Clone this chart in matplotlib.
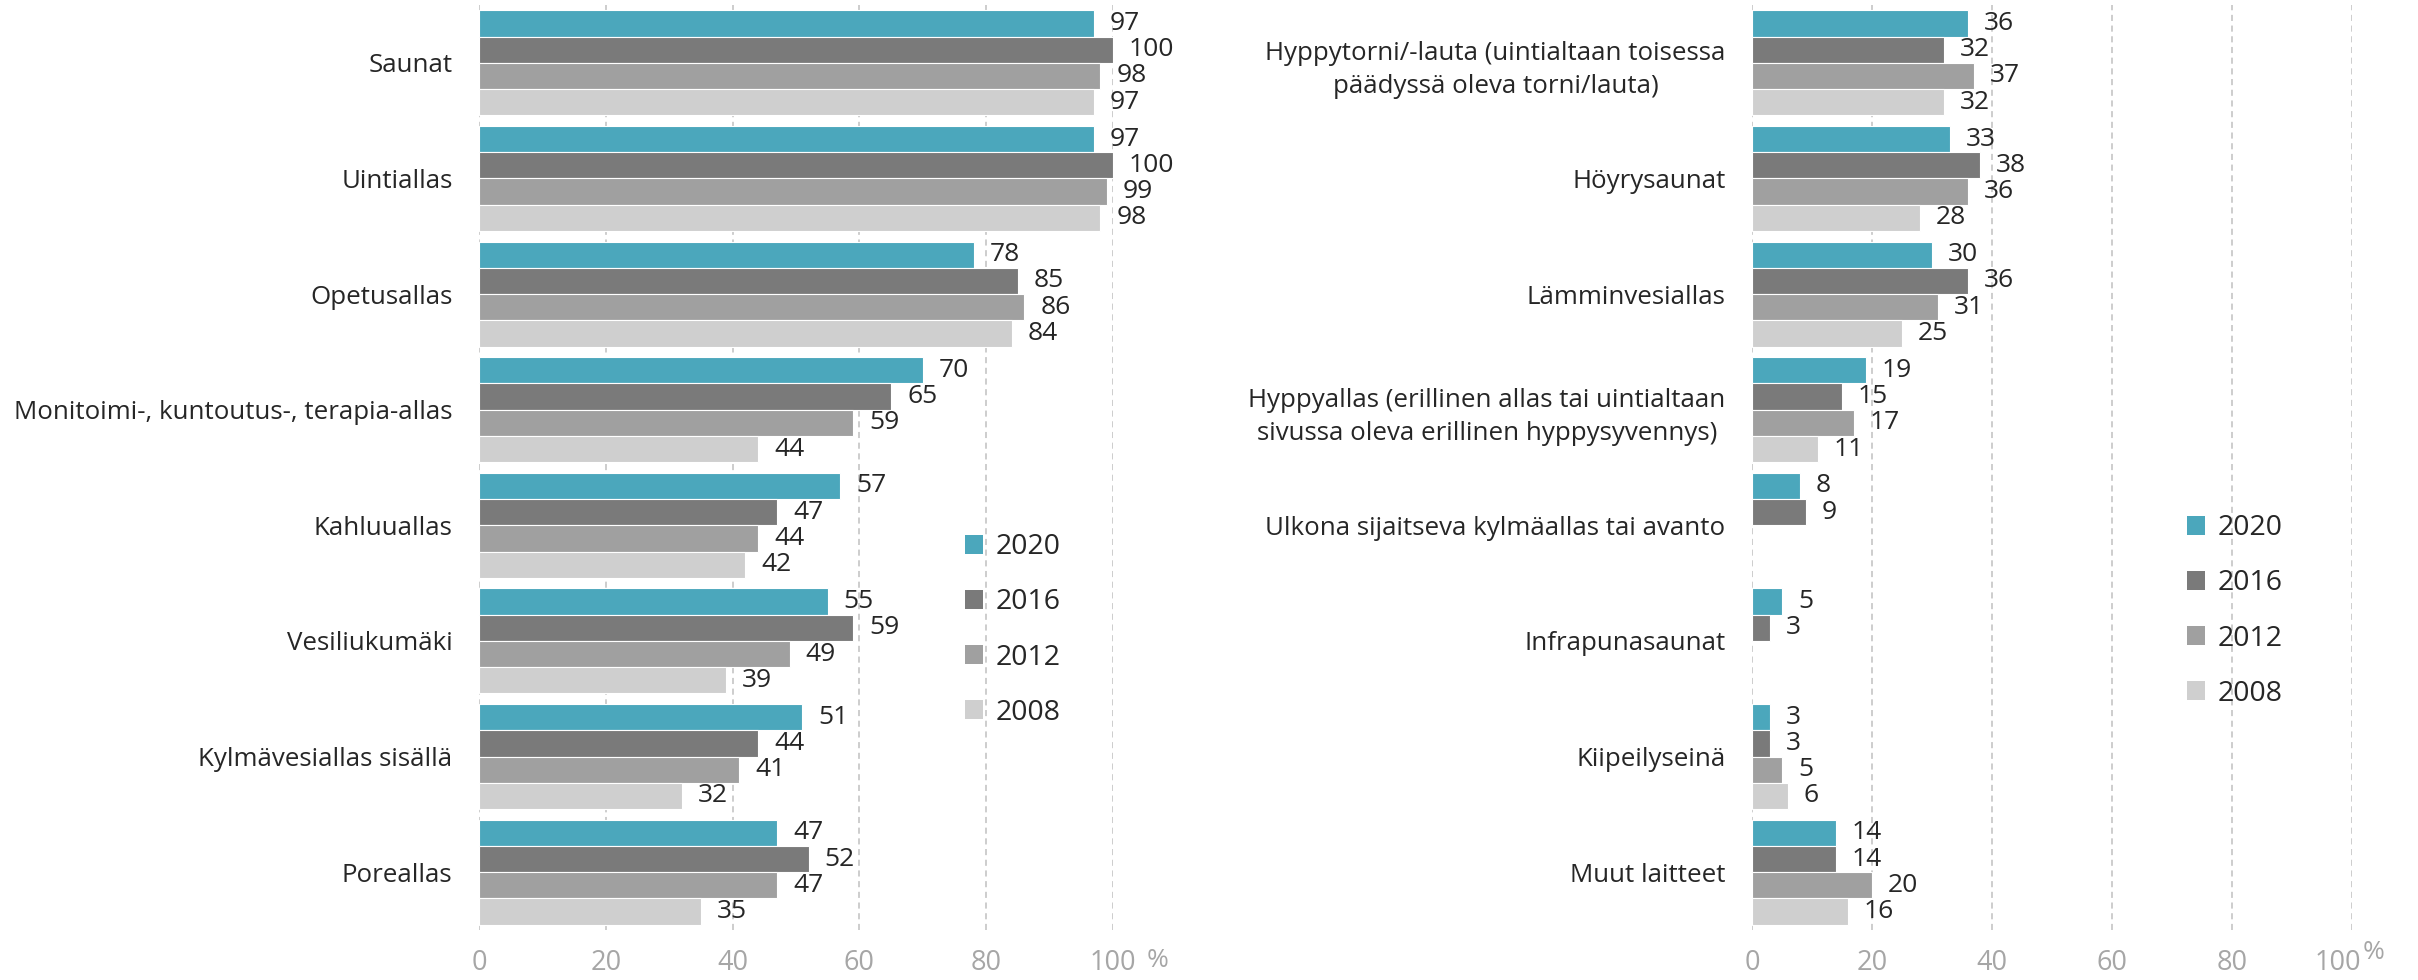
import numpy as np
import matplotlib
matplotlib.use("Agg")
import matplotlib.pyplot as plt
from matplotlib.transforms import blended_transform_factory, ScaledTranslation

plt.rcParams["font.family"] = ["Open Sans", "DejaVu Sans"]

years = ["2020", "2016", "2012", "2008"]
colors = ["#4ba7bc", "#7a7a7a", "#a0a0a0", "#cfcfcf"]

left_cats = [
    "Saunat",
    "Uintiallas",
    "Opetusallas",
    "Monitoimi-, kuntoutus-, terapia-allas",
    "Kahluuallas",
    "Vesiliukumäki",
    "Kylmävesiallas sisällä",
    "Poreallas",
]
left_2020 = [97, 97, 78, 70, 57, 55, 51, 47]
left_2016 = [100, 100, 85, 65, 47, 59, 44, 52]
left_2012 = [98, 99, 86, 59, 44, 49, 41, 47]
left_2008 = [97, 98, 84, 44, 42, 39, 32, 35]

right_cats = [
    "Hyppytorni/-lauta (uintialtaan toisessa\npäädyssä oleva torni/lauta)",
    "Höyrysaunat",
    "Lämminvesiallas",
    "Hyppyallas (erillinen allas tai uintialtaan\nsivussa oleva erillinen hyppysyvennys)",
    "Ulkona sijaitseva kylmäallas tai avanto",
    "Infrapunasaunat",
    "Kiipeilyseinä",
    "Muut laitteet",
]
right_2020 = [36, 33, 30, 19, 8, 5, 3, 14]
right_2016 = [32, 38, 36, 15, 9, 3, 3, 14]
right_2012 = [37, 36, 31, 17, None, None, 5, 20]
right_2008 = [32, 28, 25, 11, None, None, 6, 16]

W, H = 2418, 980
TEXT = "#262626"
TICK = "#a6a6a6"
BAR_H = 0.227


def draw_panel(ax, cats, series):
    n = len(cats)
    base = np.arange(n)
    for k, (vals, col, yr) in enumerate(zip(series, colors, years)):
        ys = base + (k - 1.5) * BAR_H
        for y, v in zip(ys, vals):
            if v is None:
                continue
            ax.barh(y, v, height=BAR_H, color=col, edgecolor="white", linewidth=0.8, zorder=2)
            ax.annotate(str(v), (v, y), xytext=(11.5, 0), textcoords="offset points",
                        ha="left", va="center", fontsize=19, color=TEXT,
                        annotation_clip=False, zorder=3)
        ax.barh(np.nan, 0, color=col, label=yr)

    ax.set_ylim(n - 0.5, -0.5)
    ax.set_xlim(0, 100)
    ax.set_xticks(range(0, 101, 20))
    ax.set_yticks(base)
    ax.set_yticklabels(cats, fontsize=18.6, color=TEXT)
    for lab in ax.get_yticklabels():
        lab.set_multialignment("center")
        lab.set_linespacing(1.45)
    ax.tick_params(axis="y", length=0, pad=19)
    ax.tick_params(axis="x", length=0, pad=13.5, labelsize=19.5, labelcolor=TICK)
    ax.grid(axis="x", color="#c0c0c0", linestyle=(0, (4, 3)), linewidth=1.1)
    ax.set_axisbelow(True)
    for s in ax.spines.values():
        s.set_visible(False)


fig = plt.figure(figsize=(W / 100, H / 100), dpi=100)
axL = fig.add_axes([479 / W, 1 - 930 / H, 634 / W, 925 / H])
axR = fig.add_axes([1752 / W, 1 - 930 / H, 600 / W, 925 / H])

draw_panel(axL, left_cats, [left_2020, left_2016, left_2012, left_2008])
draw_panel(axR, right_cats, [right_2020, right_2016, right_2012, right_2008])

# last tick label of the right panel sits a bit to the left, next to the % sign
last = axR.get_xticklabels()[-1]
last.set_transform(last.get_transform() + ScaledTranslation(-14 / 100, 0, fig.dpi_scale_trans))

trL = blended_transform_factory(axL.transData, axL.transAxes)
axL.text(107.1, -0.033, "%", transform=trL, ha="center", va="center", fontsize=19, color=TICK)
trR = blended_transform_factory(axR.transData, axR.transAxes)
axR.text(103.6, -0.024, "%", transform=trR, ha="center", va="center", fontsize=19, color=TICK)

leg_kw = dict(loc="center left", frameon=False, fontsize=20.5, handlelength=0.62,
              handleheight=0.62, handletextpad=0.45, labelspacing=0.95,
              borderpad=0, borderaxespad=0, labelcolor=TEXT)
axL.legend(bbox_to_anchor=(965 / W, 1 - 630 / H), bbox_transform=fig.transFigure, **leg_kw)
axR.legend(bbox_to_anchor=(2187 / W, 1 - 611 / H), bbox_transform=fig.transFigure, **leg_kw)

fig.savefig("out.png", dpi=100)
